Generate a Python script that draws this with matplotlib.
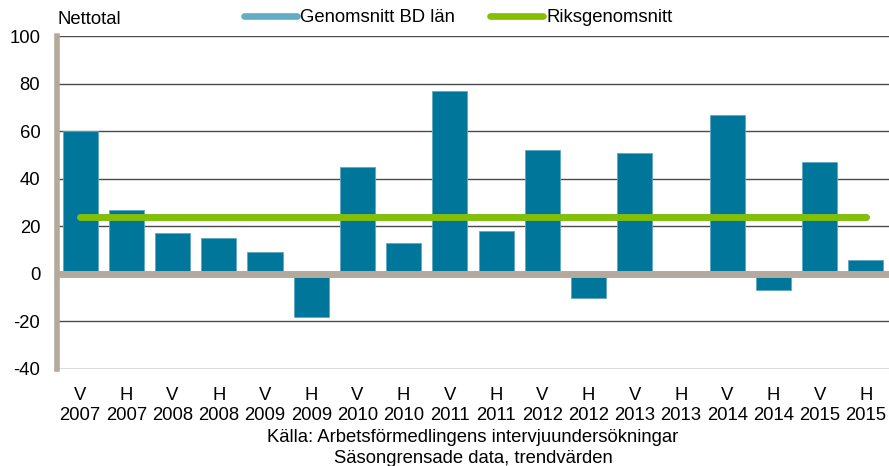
import matplotlib.pyplot as plt
import numpy as np

# Data
halvar = ['V', 'H'] * 9
ar = [y for y in range(2007, 2016) for _ in range(2)]
nettotal = [60, 27, 17, 15, 9, -18, 45, 13, 77, 18, 52, -10, 51, 0, 67, -7, 47, 6]
bd_snitt = 24
riks_snitt = 24

plt.rcParams['font.family'] = ['Liberation Sans', 'DejaVu Sans']
plt.rcParams['axes.unicode_minus'] = False

fs = 13.3

fig = plt.figure(figsize=(8.89, 4.66), dpi=100)
ax = fig.add_axes([0.0641, 0.2082, 0.9359, 0.7145])

x = np.arange(len(nettotal))
ax.bar(x, nettotal, width=0.76, color='#00769a', edgecolor='#5fa8c0', linewidth=0.6, zorder=3)

# genomsnitt lines
ax.plot([x[0], x[-1]], [bd_snitt, bd_snitt], color='#62adc4', linewidth=4.8,
        solid_capstyle='round', zorder=4, label='Genomsnitt BD län')
ax.plot([x[0], x[-1]], [riks_snitt, riks_snitt], color='#82c000', linewidth=4.8,
        solid_capstyle='round', zorder=5, label='Riksgenomsnitt')

ax.axhline(0, color='#b3a99c', linewidth=5, zorder=4)

ax.set_xlim(-0.5, 17.5)
ax.set_ylim(-40, 100)
ax.set_yticks(range(-40, 101, 20))
ax.yaxis.grid(True, color='#4a4a4a', linewidth=1.0, zorder=0)
ax.set_axisbelow(True)

for s in ['top', 'right', 'bottom']:
    ax.spines[s].set_visible(False)
ax.spines['left'].set_color('#b3a99c')
ax.spines['left'].set_linewidth(4)

ax.set_xticks(x)
ax.set_xticklabels([f'{h}\n{a}' for h, a in zip(halvar, ar)], fontsize=fs, linespacing=1.2)
ax.tick_params(axis='x', length=0, pad=13)
ax.tick_params(axis='y', length=0, labelsize=fs, pad=12)

fig.text(0.065, 0.958, 'Nettotal', fontsize=fs, va='center', ha='left')

ax.legend(loc='center', bbox_to_anchor=(0.482, 1.055), ncol=2, frameon=False, fontsize=fs,
          handlelength=2.9, handletextpad=0.15, columnspacing=1.9, borderaxespad=0)

fig.text(0.532, 0.062, 'Källa: Arbetsförmedlingens intervjuundersökningar', fontsize=fs, ha='center', va='center')
fig.text(0.532, 0.017, 'Säsongrensade data, trendvärden', fontsize=fs, ha='center', va='center')

fig.savefig('out.png', dpi=100)
